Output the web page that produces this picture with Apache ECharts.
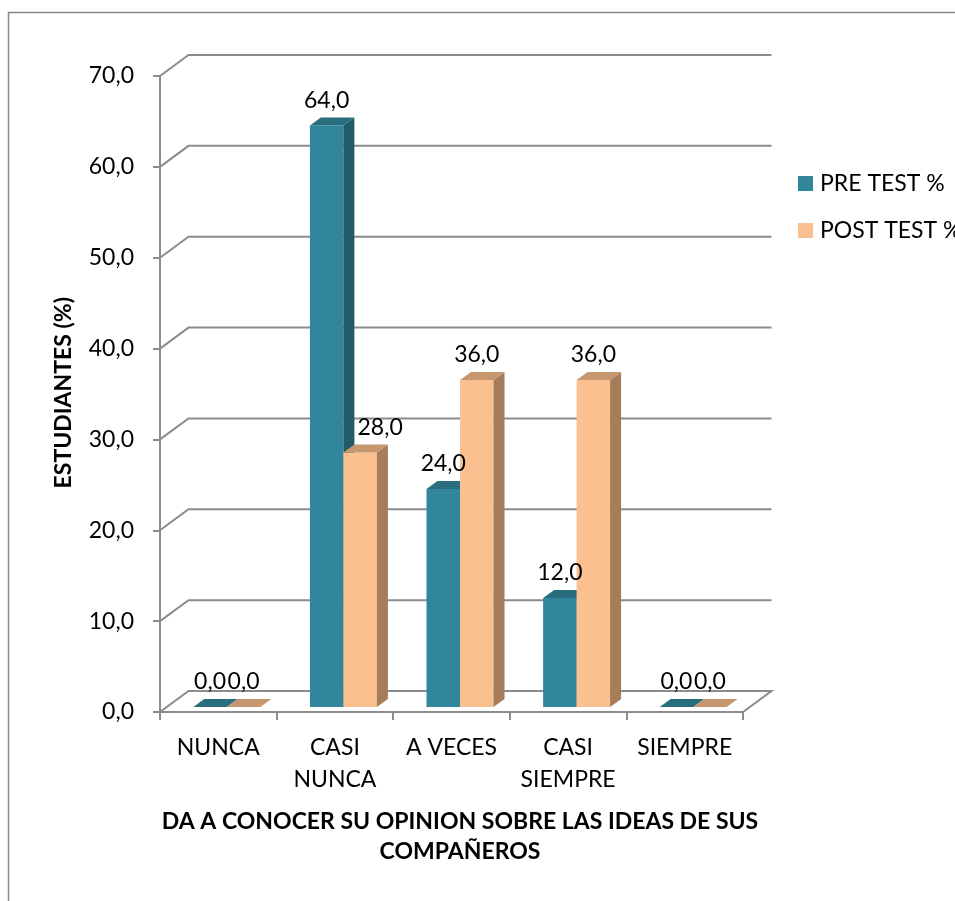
<!DOCTYPE html>
<html>
<head>
<meta charset="utf-8">
<title>Estudiantes</title>
<script src="https://cdn.jsdelivr.net/npm/echarts@6/dist/echarts.min.js"></script>
<style>
  html, body { margin: 0; padding: 0; background: #fff; }
  #main { width: 955px; height: 901px; }
</style>
</head>
<body>
<div id="main"></div>
<script>
// datos del grafico
const categories = ['NUNCA', 'CASI\nNUNCA', 'A VECES', 'CASI\nSIEMPRE', 'SIEMPRE'];
const preTest = [0.0, 64.0, 24.0, 12.0, 0.0];
const postTest = [0.0, 28.0, 36.0, 36.0, 0.0];
const yTicks = [0, 10, 20, 30, 40, 50, 60, 70];
const seriesNames = ['PRE TEST %', 'POST TEST %'];

const FONT = 'Lato';
const GRID_COLOR = '#8c8c8c';

// perspectiva (pseudo 3D)
const WALL_DX = 28.5, WALL_DY = -21;
const PLANE_DX = 7, PLANE_DY = -5;
const SIDE_DX = 11, SIDE_DY = -8;
const BAR_W = 33.5;

const colors = [
    { front: '#31859c', side: '#215b69', top: '#286e7f' },
    { front: '#fac090', side: '#a67c59', top: '#c6966e' }
];

const fmt = v => v.toFixed(1).replace('.', ',');

// paredes y lineas de division
function renderWalls(params, api) {
    const cs = params.coordSys;
    const v = api.value(1);
    const y = api.coord([0, v])[1];
    const x0 = cs.x, x1 = cs.x + cs.width;
    if (v === 0) {
        return {
            type: 'polygon',
            shape: { points: [[x0, y], [x1, y], [x1 + WALL_DX, y + WALL_DY], [x0 + WALL_DX, y + WALL_DY]] },
            style: { fill: '#fff', stroke: GRID_COLOR, lineWidth: 2 }
        };
    }
    return {
        type: 'polyline',
        shape: { points: [[x0, y], [x0 + WALL_DX, y + WALL_DY], [x1 + WALL_DX, y + WALL_DY]] },
        style: { fill: null, stroke: GRID_COLOR, lineWidth: 2 }
    };
}

// posicion de la cara frontal de una barra
function barBox(api, sIdx) {
    const i = api.value(0);
    const v = api.value(1);
    const cx = api.coord([i, 0])[0];
    const top = api.coord([i, v])[1] + PLANE_DY;
    const bottom = api.coord([i, 0])[1] + PLANE_DY;
    const left = cx + PLANE_DX + 1.5 - (sIdx === 0 ? BAR_W : 0);
    return { i: i, v: v, top: top, bottom: bottom, left: left, right: left + BAR_W };
}

function makeBarRender(sIdx) {
    const c = colors[sIdx];
    return function (params, api) {
        const b = barBox(api, sIdx);
        const children = [];
        if (b.bottom - b.top > 0.5) {
            children.push({
                type: 'rect',
                shape: { x: b.left, y: b.top, width: BAR_W, height: b.bottom - b.top },
                style: { fill: c.front }
            });
            children.push({
                type: 'polygon',
                shape: { points: [[b.right, b.top], [b.right + SIDE_DX, b.top + SIDE_DY], [b.right + SIDE_DX, b.bottom + SIDE_DY], [b.right, b.bottom]] },
                style: { fill: c.side }
            });
        }
        children.push({
            type: 'polygon',
            shape: { points: [[b.left, b.top], [b.left + SIDE_DX, b.top + SIDE_DY], [b.right + SIDE_DX, b.top + SIDE_DY], [b.right, b.top]] },
            style: { fill: c.top }
        });
        return { type: 'group', children: children };
    };
}

// etiquetas encima de todo; se corre a la derecha si la barra vecina es mas alta
function makeLabelRender(sIdx, own, other) {
    return function (params, api) {
        const b = barBox(api, sIdx);
        let lx = (b.left + b.right) / 2;
        if (sIdx === 1 && other[b.i] > own[b.i]) lx += 20;
        return {
            type: 'text',
            style: {
                x: lx, y: b.top - 25, text: fmt(b.v),
                align: 'center', verticalAlign: 'middle',
                font: '23px ' + FONT, fill: '#000'
            }
        };
    };
}

const chart = echarts.init(document.getElementById('main'));

const option = {
    animation: false,
    backgroundColor: '#fff',
    textStyle: { fontFamily: FONT },
    grid: { left: 160, top: 76, width: 583, height: 636 },
    legend: {
        orient: 'vertical',
        left: 798, top: 172,
        padding: 0,
        icon: 'rect',
        itemWidth: 15, itemHeight: 15,
        itemGap: 24,
        data: seriesNames,
        textStyle: { fontSize: 23, color: '#000', fontFamily: FONT, padding: [0, 0, 0, 2] }
    },
    xAxis: {
        type: 'category',
        data: categories,
        axisLine: { lineStyle: { color: GRID_COLOR, width: 2 } },
        axisTick: { show: true, length: 8, lineStyle: { color: GRID_COLOR, width: 2 } },
        axisLabel: { fontSize: 23, color: '#000', margin: 20, lineHeight: 32, interval: 0 },
        splitLine: { show: false }
    },
    yAxis: {
        type: 'value',
        min: 0, max: 70, interval: 10,
        axisLine: { show: true, lineStyle: { color: GRID_COLOR, width: 2 } },
        axisTick: { show: true, length: 7, lineStyle: { color: GRID_COLOR, width: 2 } },
        axisLabel: { fontSize: 23, color: '#000', margin: 26, formatter: fmt },
        splitLine: { show: false }
    },
    graphic: [
        {
            type: 'rect', silent: true, z: -10,
            shape: { x: 8.5, y: 12.5, width: 1000, height: 1000 },
            style: { fill: null, stroke: '#888', lineWidth: 1.5 }
        },
        {
            type: 'text', left: 52, top: 297, rotation: Math.PI / 2,
            style: { text: 'ESTUDIANTES (%)', font: 'bold 23px ' + FONT, fill: '#000' }
        },
        {
            type: 'text', x: 460, y: 837,
            style: {
                text: 'DA A CONOCER SU OPINION SOBRE LAS IDEAS DE SUS\nCOMPAÑEROS',
                font: 'bold 23px ' + FONT, fill: '#000',
                align: 'center', verticalAlign: 'middle', lineHeight: 30
            }
        }
    ],
    series: [
        {
            type: 'custom', name: 'walls', z: 1, silent: true,
            renderItem: renderWalls,
            data: yTicks.map(v => [0, v])
        },
        {
            type: 'custom', name: seriesNames[0], z: 2,
            itemStyle: { color: colors[0].front },
            renderItem: makeBarRender(0),
            data: preTest.map((v, i) => [i, v])
        },
        {
            type: 'custom', name: seriesNames[1], z: 3,
            itemStyle: { color: colors[1].front },
            renderItem: makeBarRender(1),
            data: postTest.map((v, i) => [i, v])
        },
        {
            type: 'custom', name: 'labels-pre', z: 5, silent: true,
            renderItem: makeLabelRender(0, preTest, postTest),
            data: preTest.map((v, i) => [i, v])
        },
        {
            type: 'custom', name: 'labels-post', z: 5, silent: true,
            renderItem: makeLabelRender(1, postTest, preTest),
            data: postTest.map((v, i) => [i, v])
        }
    ]
};

chart.setOption(option);
</script>
</body>
</html>
